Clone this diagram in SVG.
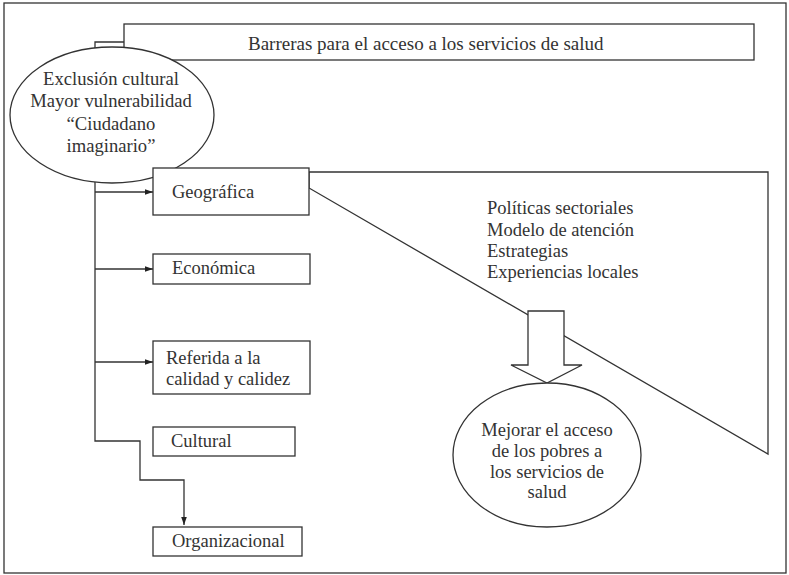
<svg xmlns="http://www.w3.org/2000/svg" width="789" height="575" viewBox="0 0 789 575">
<defs>
<style>
.ln{fill:none;stroke:#333;stroke-width:1.3}
.bx{fill:#fff;stroke:#333;stroke-width:1.3}
text{font-family:'Liberation Serif','Times New Roman','DejaVu Serif',serif;font-size:18.5px;fill:#333}
.c{text-anchor:middle}
</style>
<marker id="ah" viewBox="0 0 10 10" refX="10" refY="5" markerWidth="8" markerHeight="8" markerUnits="userSpaceOnUse" orient="auto">
<path d="M0,1.5 L10,5 L0,8.5 Z" fill="#222"/>
</marker>
</defs>
<rect x="0" y="0" width="789" height="575" fill="#fff"/>
<rect id="frame" x="4" y="3" width="782" height="570" class="ln"/>

<g id="bigshape">
<polygon points="309,172 768,172 768,454 309,188" class="ln"/>
</g>

<g id="connectors">
<polyline points="124,42 95,42 95,441 140,441 140,480 184,480 184,525" class="ln" marker-end="url(#ah)"/>
<line x1="95" y1="192" x2="153" y2="192" class="ln" marker-end="url(#ah)"/>
<line x1="95" y1="269" x2="153" y2="269" class="ln" marker-end="url(#ah)"/>
<line x1="95" y1="362" x2="153" y2="362" class="ln" marker-end="url(#ah)"/>
</g>

<g id="barreras">
<rect x="124" y="24" width="630" height="36" class="bx"/>
<text x="248" y="50" style="font-size:19px">Barreras para el acceso a los servicios de salud</text>
</g>

<g id="exclusion">
<ellipse cx="112" cy="115" rx="102" ry="68" class="bx"/>
<text class="c" style="font-size:18.6px"><tspan x="111" y="85">Exclusión cultural</tspan><tspan x="111" y="107">Mayor vulnerabilidad</tspan><tspan x="111" y="130">“Ciudadano</tspan><tspan x="111" y="152">imaginario”</tspan></text>
</g>

<g id="geografica">
<rect x="153" y="168" width="156" height="47" class="bx"/>
<text x="172" y="198">Geográfica</text>
</g>

<g id="economica">
<rect x="153" y="254" width="157" height="30" class="bx"/>
<text x="172" y="274">Económica</text>
</g>

<g id="referida">
<rect x="153" y="341" width="157" height="53" class="bx"/>
<text><tspan x="166" y="364">Referida a la</tspan><tspan x="166" y="385">calidad y calidez</tspan></text>
</g>

<g id="cultural">
<rect x="153" y="427" width="142" height="29" class="bx"/>
<text x="171" y="447">Cultural</text>
</g>

<g id="organizacional">
<rect x="153" y="527" width="149" height="29" class="bx"/>
<text x="172" y="547">Organizacional</text>
</g>

<g id="politicas">
<text><tspan x="487" y="214">Políticas sectoriales</tspan><tspan x="487" y="236">Modelo de atención</tspan><tspan x="487" y="257">Estrategias</tspan><tspan x="487" y="278">Experiencias locales</tspan></text>
</g>

<g id="blockarrow">
<polygon points="528,311 564,311 564,365 582,365 547,383 511,365 528,365" class="bx"/>
</g>

<g id="mejorar">
<ellipse cx="547" cy="455" rx="94" ry="72" class="bx"/>
<text class="c"><tspan x="547" y="436">Mejorar el acceso</tspan><tspan x="547" y="457">de los pobres a</tspan><tspan x="547" y="478">los servicios de</tspan><tspan x="547" y="498">salud</tspan></text>
</g>
</svg>
